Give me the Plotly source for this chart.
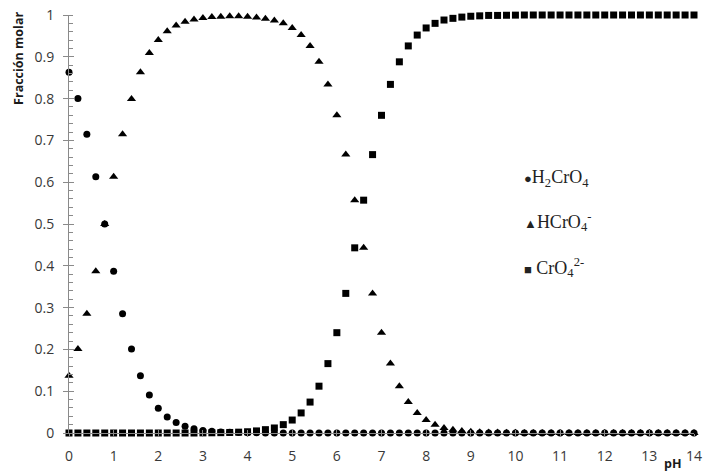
import plotly.graph_objects as go

ph = [0.0, 0.2, 0.4, 0.6, 0.8, 1.0, 1.2, 1.4, 1.6, 1.8,
      2.0, 2.2, 2.4, 2.6, 2.8, 3.0, 3.2, 3.4, 3.6, 3.8,
      4.0, 4.2, 4.4, 4.6, 4.8, 5.0, 5.2, 5.4, 5.6, 5.8,
      6.0, 6.2, 6.4, 6.6, 6.8, 7.0, 7.2, 7.4, 7.6, 7.8,
      8.0, 8.2, 8.4, 8.6, 8.8, 9.0, 9.2, 9.4, 9.6, 9.8,
      10.0, 10.2, 10.4, 10.6, 10.8, 11.0, 11.2, 11.4, 11.6, 11.8,
      12.0, 12.2, 12.4, 12.6, 12.8, 13.0, 13.2, 13.4, 13.6, 13.8,
      14.0]

h2cro4 = [0.863, 0.800, 0.715, 0.613, 0.500, 0.387, 0.285, 0.201, 0.137, 0.091,
          0.059, 0.038, 0.025, 0.016, 0.010, 0.006, 0.004, 0.0025, 0.0016, 0.001,
          0.0006, 0.0004, 0.0002, 0.0001, 0, 0, 0, 0, 0, 0,
          0, 0, 0, 0, 0, 0, 0, 0, 0, 0,
          0, 0, 0, 0, 0, 0, 0, 0, 0, 0,
          0, 0, 0, 0, 0, 0, 0, 0, 0, 0,
          0, 0, 0, 0, 0, 0, 0, 0, 0, 0,
          0]

hcro4 = [0.137, 0.201, 0.285, 0.387, 0.500, 0.613, 0.715, 0.799, 0.863, 0.909,
         0.940, 0.961, 0.975, 0.984, 0.989, 0.993, 0.995, 0.996, 0.997, 0.997,
         0.996, 0.994, 0.991, 0.987, 0.980, 0.969, 0.952, 0.926, 0.888, 0.834,
         0.760, 0.666, 0.557, 0.443, 0.334, 0.240, 0.166, 0.112, 0.074, 0.048,
         0.031, 0.020, 0.012, 0.008, 0.005, 0.003, 0.002, 0.001, 0.001, 0.0006,
         0.0003, 0, 0, 0, 0, 0, 0, 0, 0, 0,
         0, 0, 0, 0, 0, 0, 0, 0, 0, 0,
         0]

cro4 = [0, 0, 0, 0, 0, 0, 0, 0, 0, 0,
        0, 0, 0, 0, 0, 0.0003, 0.0005, 0.0008, 0.0013, 0.002,
        0.003, 0.005, 0.008, 0.012, 0.020, 0.031, 0.048, 0.074, 0.112, 0.166,
        0.240, 0.334, 0.443, 0.557, 0.666, 0.760, 0.834, 0.888, 0.926, 0.952,
        0.969, 0.980, 0.988, 0.992, 0.995, 0.997, 0.998, 0.999, 0.999, 0.9994,
        0.9997, 1, 1, 1, 1, 1, 1, 1, 1, 1,
        1, 1, 1, 1, 1, 1, 1, 1, 1, 1,
        1]

legend_labels = ["H<sub>2</sub>CrO<sub>4</sub>",
                 "HCrO<sub>4</sub><sup>-</sup>",
                 " CrO<sub>4</sub><sup>2-</sup>"]
legend_glyphs = ["●", "▲", "■"]

AXC = "#8a8a8a"
TXT = "#383838"

fig = go.Figure()
fig.add_trace(go.Scatter(x=ph, y=cro4, mode="markers", name="CrO4",
                         marker=dict(symbol="square", size=7, color="black"),
                         cliponaxis=False, showlegend=False))
fig.add_trace(go.Scatter(x=ph, y=hcro4, mode="markers", name="HCrO4",
                         marker=dict(symbol="triangle-up", size=8, color="black"),
                         cliponaxis=False, showlegend=False))
fig.add_trace(go.Scatter(x=ph, y=h2cro4, mode="markers", name="H2CrO4",
                         marker=dict(symbol="circle", size=7, color="black"),
                         cliponaxis=False, showlegend=False))
# empty trace to activate the overlay axes that draw the inner half of crossing ticks
fig.add_trace(go.Scatter(x=[], y=[], xaxis="x2", yaxis="y2", showlegend=False))

fig.update_layout(
    width=704, height=472,
    margin=dict(l=61, r=18, t=7, b=47, autoexpand=False),
    paper_bgcolor="white", plot_bgcolor="white",
    font=dict(family="Open Sans", size=14, color=TXT),
    xaxis=dict(range=[0, 14], dtick=1, tick0=0, showgrid=False, zeroline=False,
               showline=True, linecolor=AXC, linewidth=1, automargin=False,
               ticks="outside", ticklen=3, tickcolor=AXC, ticklabeloverflow="allow",
               ticklabelstandoff=7, tickfont=dict(family="Open Sans", size=14, color=TXT)),
    yaxis=dict(range=[0, 1], dtick=0.1, tick0=0, showgrid=False, zeroline=False,
               showline=True, linecolor=AXC, linewidth=1, automargin=False,
               ticks="outside", ticklen=5, tickcolor=AXC, ticklabeloverflow="allow",
               ticklabelstandoff=6, tickfont=dict(family="Open Sans", size=14, color=TXT),
               minor=dict(dtick=0.02, ticks="inside", ticklen=4, tickcolor=AXC, showgrid=False)),
    xaxis2=dict(range=[0, 14], dtick=1, tick0=0, overlaying="x", anchor="y", side="bottom",
                showgrid=False, zeroline=False, showline=False, showticklabels=False,
                automargin=False, ticks="inside", ticklen=3, tickcolor=AXC),
    yaxis2=dict(range=[0, 1], dtick=0.1, tick0=0, overlaying="y", anchor="x", side="left",
                showgrid=False, zeroline=False, showline=False, showticklabels=False,
                automargin=False, ticks="inside", ticklen=5, tickcolor=AXC),
)

# axis titles
fig.add_annotation(text="<b>Fracción molar</b>", xref="paper", yref="paper",
                   x=-0.08, y=0.895, xanchor="center", yanchor="middle", textangle=-90,
                   showarrow=False, font=dict(family="Open Sans", size=12.5, color="#1a1a1a"))
fig.add_annotation(text="<b>pH</b>", xref="paper", yref="paper",
                   x=0.965, y=-0.074, xanchor="center", yanchor="middle",
                   showarrow=False, font=dict(family="Open Sans", size=12.5, color="#1a1a1a"))

# legend rows
ys = [0.61, 0.505, 0.397]
for glyph, lab, yy in zip(legend_glyphs, legend_labels, ys):
    fig.add_annotation(
        text='<span style="font-size:13px">' + glyph + '</span>' + lab,
        xref="paper", yref="paper", x=0.724, y=yy, xanchor="left", yanchor="middle",
        showarrow=False, font=dict(family="Liberation Serif", size=18, color="#222222"))

fig.write_html("out.html")
